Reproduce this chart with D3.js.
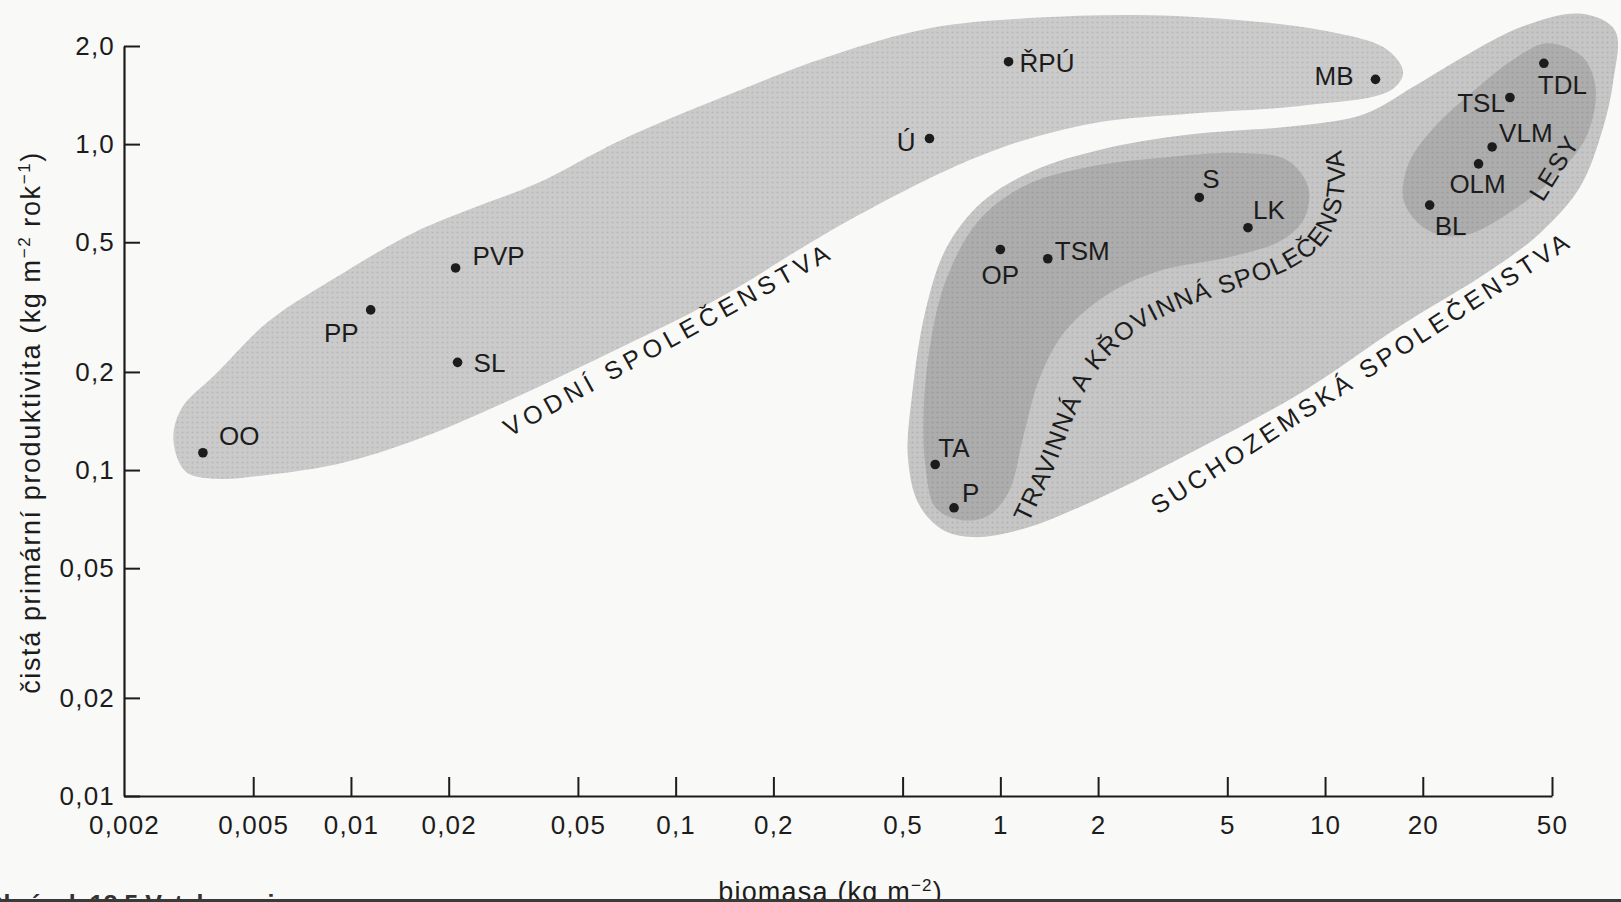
<!DOCTYPE html>
<html>
<head>
<meta charset="utf-8">
<script src="https://cdn.jsdelivr.net/npm/d3@7"></script>
<style>
  body { margin: 0; background: #f9f9f7; }
  svg { display: block; font-family: "Liberation Sans", Arial, sans-serif; }
</style>
</head>
<body>
<div id="chart"></div>
<script>
// communities: biomass (kg m-2) vs net primary productivity (kg m-2 rok-1)
const names = ["OO", "PP", "PVP", "SL", "Ú", "ŘPÚ", "MB", "TDL", "TSL", "VLM", "OLM", "BL", "S", "LK", "OP", "TSM", "TA", "P"];
const biomass = [0.0035, 0.0115, 0.021, 0.0213, 0.605, 1.06, 14.3, 47.2, 37.1, 32.7, 29.7, 21.0, 4.10, 5.79, 1.00, 1.40, 0.63, 0.72];
const productivity = [0.113, 0.31, 0.417, 0.214, 1.04, 1.79, 1.58, 1.77, 1.39, 0.98, 0.87, 0.65, 0.686, 0.554, 0.475, 0.445, 0.104, 0.0766];

const xTicks = [0.002, 0.005, 0.01, 0.02, 0.05, 0.1, 0.2, 0.5, 1, 2, 5, 10, 20, 50];
const xTickLabels = ["0,002", "0,005", "0,01", "0,02", "0,05", "0,1", "0,2", "0,5", "1", "2", "5", "10", "20", "50"];
const yTicks = [2, 1, 0.5, 0.2, 0.1, 0.05, 0.02, 0.01];
const yTickLabels = ["2,0", "1,0", "0,5", "0,2", "0,1", "0,05", "0,02", "0,01"];

// shaded community envelopes, in data units [biomass, productivity]
const aquaticOutline = [
  [0.00284, 0.123], [0.0030, 0.154], [0.00387, 0.199], [0.00558, 0.286], [0.00933, 0.399],
  [0.0156, 0.535], [0.0242, 0.641], [0.0376, 0.76], [0.068, 1.03], [0.141, 1.40],
  [0.293, 1.85], [0.61, 2.27], [1.27, 2.44], [2.64, 2.49], [5.5, 2.40], [9.89, 2.23],
  [15.4, 1.96], [17.4, 1.66], [15.9, 1.46], [8.36, 1.31], [3.81, 1.24], [2.03, 1.17],
  [1.27, 1.05], [0.88, 0.926], [0.61, 0.788], [0.293, 0.535], [0.141, 0.344], [0.068, 0.238],
  [0.028, 0.157], [0.0156, 0.123], [0.00933, 0.105], [0.00558, 0.0968], [0.00387, 0.094], [0.0031, 0.0989]
];
const terrestrialOutline = [
  [0.817, 0.0623], [0.656, 0.0661], [0.558, 0.0794], [0.519, 0.110], [0.535, 0.171], [0.588, 0.308],
  [0.681, 0.479], [0.88, 0.665], [1.27, 0.830], [2.03, 0.961], [3.81, 1.07], [8.36, 1.14],
  [13.3, 1.24], [18.7, 1.50], [26.6, 1.85], [40.7, 2.30], [61.8, 2.51], [78.2, 2.23], [77.1, 1.55],
  [71.6, 1.11], [61.0, 0.738], [46.1, 0.535], [32.0, 0.407], [17.0, 0.276], [8.54, 0.174],
  [4.13, 0.117], [1.97, 0.0811], [1.18, 0.0661]
];
const grassOutline = [
  [0.760, 0.0702], [0.632, 0.0766], [0.588, 0.1026], [0.580, 0.148], [0.610, 0.247], [0.681, 0.384],
  [0.848, 0.575], [1.18, 0.743], [1.83, 0.848], [3.29, 0.913], [5.5, 0.940], [7.65, 0.893],
  [8.86, 0.743], [8.67, 0.597], [7.38, 0.508], [5.11, 0.451], [3.06, 0.407], [2.12, 0.344],
  [1.58, 0.266], [1.32, 0.191], [1.18, 0.128], [1.06, 0.0855], [0.912, 0.0722]
];
const forestOutline = [
  [48.2, 2.04], [61.8, 1.86], [68.1, 1.49], [64.2, 1.07], [53.4, 0.830], [38.4, 0.632],
  [26.6, 0.523], [20.6, 0.546], [17.5, 0.665], [18.0, 0.861], [21.4, 1.11], [29.7, 1.50], [38.4, 1.83]
];
const grassLabelPath = [
  [1.22, 0.0686], [1.45, 0.0989], [1.70, 0.148], [1.97, 0.199], [2.64, 0.266], [3.81, 0.320],
  [5.5, 0.362], [7.94, 0.419], [9.89, 0.497], [11.2, 0.641], [11.5, 0.830], [10.9, 1.07]
];

// label placement around each point: [anchor, dx, dy]
const labelLayout = {
  "OO": ["start", 16, -17], "PP": ["end", -12, 23], "PVP": ["start", 17, -12], "SL": ["start", 16, 0],
  "Ú": ["end", -14, 3], "ŘPÚ": ["start", 11, 1], "MB": ["end", -22, -4], "TDL": ["start", -6, 21],
  "TSL": ["end", -5, 5], "VLM": ["start", 7, -14], "OLM": ["middle", -1, 20], "BL": ["start", 5, 21],
  "S": ["start", 3, -19], "LK": ["start", 5, -18], "OP": ["middle", 0, 25], "TSM": ["start", 7, -8],
  "TA": ["start", 3, -17], "P": ["start", 8, -15]
};

const W = 1621, H = 902;
const ink = "#1c1c1c";

const svg = d3.select("#chart").append("svg")
  .attr("width", W)
  .attr("height", H);

const x = d3.scaleLog().domain([0.002, 50]).range([124, 1552]);
const y = d3.scaleLog().domain([0.01, 2]).range([796, 46]);

const defs = svg.append("defs");
function halftone(id, base, dot) {
  const p = defs.append("pattern")
    .attr("id", id)
    .attr("width", 5).attr("height", 5)
    .attr("patternUnits", "userSpaceOnUse");
  p.append("rect").attr("width", 5).attr("height", 5).attr("fill", base);
  p.append("circle").attr("cx", 2.5).attr("cy", 2.5).attr("r", 1.1).attr("fill", dot);
}
halftone("tAqua", "#cbcbcb", "#b9b9b9");
halftone("tLand", "#c6c6c6", "#b4b4b4");
halftone("tGrass", "#adadad", "#9c9c9c");

const blob = d3.line()
  .x(d => x(d[0]))
  .y(d => y(d[1]))
  .curve(d3.curveCatmullRomClosed.alpha(0.5));

svg.append("path").attr("d", blob(terrestrialOutline)).attr("fill", "url(#tLand)");
svg.append("path").attr("d", blob(aquaticOutline)).attr("fill", "url(#tAqua)");
svg.append("path").attr("d", blob(grassOutline)).attr("fill", "url(#tGrass)");
svg.append("path").attr("d", blob(forestOutline)).attr("fill", "url(#tGrass)");

// region names
const regionFont = 25;
function straightLabel(text, pos, angle, len) {
  svg.append("text")
    .attr("transform", `translate(${x(pos[0])},${y(pos[1])}) rotate(${angle})`)
    .attr("font-size", regionFont)
    .attr("fill", ink)
    .attr("textLength", len)
    .attr("lengthAdjust", "spacing")
    .text(text);
}
straightLabel("VODNÍ   SPOLEČENSTVA", [0.0308, 0.126], -29, 368);
straightLabel("SUCHOZEMSKÁ  SPOLEČENSTVA", [3.06, 0.0728], -33, 492);
straightLabel("LESY", [46.8, 0.661], -58, 70);

defs.append("path")
  .attr("id", "grassPath")
  .attr("d", d3.line().x(d => x(d[0])).y(d => y(d[1])).curve(d3.curveCatmullRom.alpha(0.5))(grassLabelPath));
svg.append("text")
  .attr("font-size", regionFont)
  .attr("fill", ink)
  .append("textPath")
  .attr("href", "#grassPath")
  .attr("textLength", 530)
  .attr("lengthAdjust", "spacing")
  .text("TRAVINNÁ  A  KŘOVINNÁ  SPOLEČENSTVA");

// axes
const xAxis = d3.axisBottom(x)
  .tickValues(xTicks)
  .tickFormat((d, i) => xTickLabels[i])
  .tickSizeInner(-19)
  .tickSizeOuter(0)
  .tickPadding(20);
const gx = svg.append("g")
  .attr("transform", `translate(0,${y(0.01)})`)
  .call(xAxis);

const yAxis = d3.axisLeft(y)
  .tickValues(yTicks)
  .tickFormat((d, i) => yTickLabels[i])
  .tickSizeInner(-16)
  .tickSizeOuter(0)
  .tickPadding(9);
const gy = svg.append("g")
  .attr("transform", `translate(${x(0.002)},0)`)
  .call(yAxis);

[gx, gy].forEach(g => {
  g.select(".domain").attr("stroke", ink).attr("stroke-width", 2.2);
  g.selectAll(".tick line").attr("stroke", ink).attr("stroke-width", 2);
  g.selectAll(".tick text")
    .attr("fill", ink)
    .attr("font-size", 26)
    .attr("letter-spacing", 1.2)
    .attr("font-family", "Liberation Sans, Arial, sans-serif");
});
gx.select(".tick line").attr("opacity", 0);

// axis titles
svg.append("text")
  .attr("transform", `translate(40,${y(0.14)}) rotate(-90)`)
  .attr("text-anchor", "middle")
  .attr("font-size", 27)
  .attr("letter-spacing", 1.6)
  .attr("fill", ink)
  .call(t => {
    t.append("tspan").text("čistá primární produktivita (kg m");
    t.append("tspan").attr("font-size", 17).attr("dy", -10).text("−2");
    t.append("tspan").attr("dy", 10).text(" rok");
    t.append("tspan").attr("font-size", 17).attr("dy", -10).text("−1");
    t.append("tspan").attr("dy", 10).text(")");
  });

svg.append("text")
  .attr("x", x(0.3))
  .attr("y", 901)
  .attr("text-anchor", "middle")
  .attr("font-size", 27)
  .attr("letter-spacing", 1.2)
  .attr("fill", ink)
  .call(t => {
    t.append("tspan").text("biomasa (kg m");
    t.append("tspan").attr("font-size", 17).attr("dy", -10).text("−2");
    t.append("tspan").attr("dy", 10).text(")");
  });

// cut-off caption of the scanned page
svg.append("text")
  .attr("x", -16)
  .attr("y", 913)
  .attr("font-size", 25)
  .attr("font-weight", "bold")
  .attr("fill", "#333")
  .text("Obrázek 18.5  Vztah mezi");

svg.append("rect")
  .attr("x", 0).attr("y", 899)
  .attr("width", W).attr("height", 3)
  .attr("fill", "#3a3a3a");

// points
const pts = svg.append("g");
names.forEach((n, i) => {
  const cx = x(biomass[i]), cy = y(productivity[i]);
  pts.append("circle")
    .attr("cx", cx).attr("cy", cy)
    .attr("r", 4.8)
    .attr("fill", ink);
  const [anchor, dx, dy] = labelLayout[n];
  pts.append("text")
    .attr("x", cx + dx).attr("y", cy + dy)
    .attr("dy", "0.36em")
    .attr("text-anchor", anchor)
    .attr("font-size", 26)
    .attr("fill", ink)
    .text(n);
});
</script>
</body>
</html>
